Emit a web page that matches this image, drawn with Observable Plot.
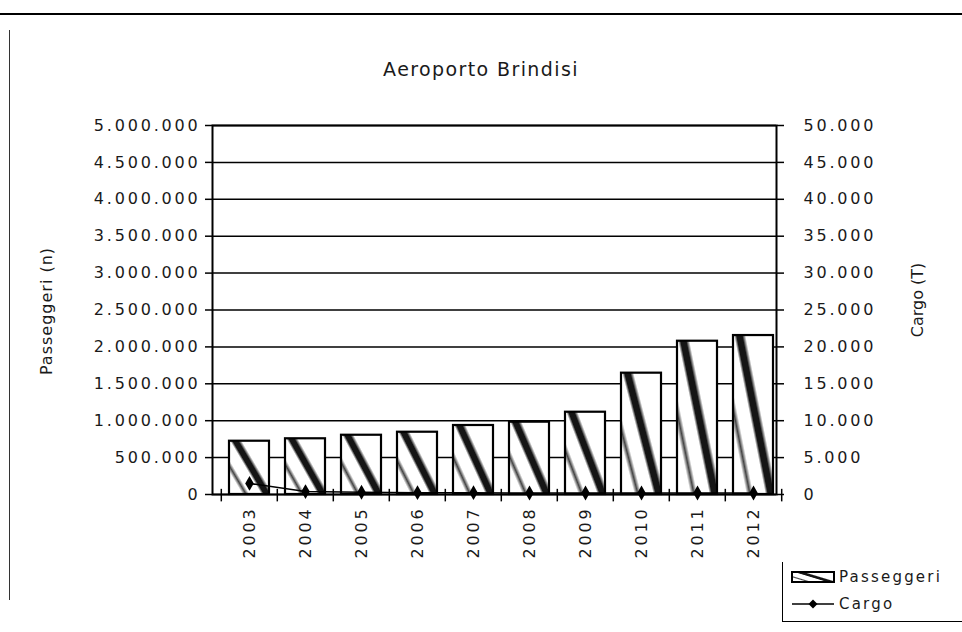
<!DOCTYPE html>
<html>
<head>
<meta charset="utf-8">
<script src="https://cdn.jsdelivr.net/npm/d3@7"></script>
<script src="https://cdn.jsdelivr.net/npm/@observablehq/plot@0.6"></script>
<style>
  body { margin: 0; background: #fff; }
  #wrap { position: relative; width: 962px; height: 632px; background: #fff; overflow: hidden;
          font-family: "DejaVu Sans", sans-serif; color: #1a1a1a; }
  #chart { position: absolute; left: 0; top: 0; }
  .title { position: absolute; left: 0; width: 962px; top: 58px; text-align: center;
           font-size: 19px; letter-spacing: 1.4px; }
  .vlab { position: absolute; font-size: 16px; white-space: nowrap;
          transform: translate(-50%, -50%) rotate(-90deg); }
  #topline { position: absolute; left: 0; top: 13px; width: 962px; height: 2px; background: #000; }
  #leftline { position: absolute; left: 9px; top: 30px; width: 0; height: 570px; border-left: 1px solid #333; }
  #legend { position: absolute; left: 782px; top: 562px; width: 180px; height: 59px;
            border-left: 1.5px solid #000; border-bottom: 1.5px solid #000; font-size: 15px; letter-spacing: 2.2px; }
  #legend .item { position: absolute; left: 7px; display: flex; align-items: center; }
  #legend svg { display: block; margin-right: 3px; }
</style>
</head>
<body>
<div id="wrap">
  <div id="topline"></div>
  <div id="leftline"></div>
  <div class="title">Aeroporto Brindisi</div>
  <div class="vlab" style="left:46px; top:311px; letter-spacing:1px;">Passeggeri (n)</div>
  <div class="vlab" style="left:917px; top:300px;">Cargo (T)</div>
  <div id="chart"></div>
  <div id="legend">
    <div class="item" style="top:6px;">
      <svg width="46" height="14"><rect x="2" y="2" width="42" height="10" fill="url(#barFill)" stroke="#000" stroke-width="2"></rect></svg>
      <span>Passeggeri</span>
    </div>
    <div class="item" style="top:33px;">
      <svg width="46" height="14"><line x1="2" y1="7" x2="44" y2="7" stroke="#000" stroke-width="1.5"></line><path d="M23,2.5L27.5,7L23,11.5L18.5,7Z" fill="#000"></path></svg>
      <span>Cargo</span>
    </div>
  </div>
</div>
<script>
// ---- data ----
const years = ["2003", "2004", "2005", "2006", "2007", "2008", "2009", "2010", "2011", "2012"];
const passeggeri = [722000, 755000, 803000, 844000, 935000, 980000, 1115000, 1644000, 2077000, 2154000];
const cargo = [1500, 400, 300, 250, 250, 200, 200, 200, 200, 200];
const leftTicks = [0, 500000, 1000000, 1500000, 2000000, 2500000, 3000000, 3500000, 4000000, 4500000, 5000000];
const rightTicks = [0, 5000, 10000, 15000, 20000, 25000, 30000, 35000, 40000, 45000, 50000];

const ratio = 100; // cargo axis 0–50.000 maps onto passenger axis 0–5.000.000
const data = years.map((y, i) => ({year: y, passeggeri: passeggeri[i], cargo: cargo[i]}));
const fmt = d => d3.format(",")(d).replace(/,/g, ".");
const step = (962 - 212 - 186) / years.length;

const chart = Plot.plot({
  width: 962,
  height: 632,
  marginTop: 125,
  marginBottom: 138,
  marginLeft: 212,
  marginRight: 186,
  style: {fontFamily: "DejaVu Sans", fontSize: "16px", color: "#000", background: "transparent", letterSpacing: "2.8px"},
  x: {type: "band", domain: years, paddingInner: 0.29, paddingOuter: 0.145, align: 0.85},
  y: {domain: [0, 5000000]},
  marks: [
    Plot.gridY(leftTicks, {stroke: "#000", strokeOpacity: 1, strokeWidth: 1.5}),
    Plot.barY(data, {x: "year", y: "passeggeri", fill: "url(#barFill)", stroke: "#000", strokeWidth: 2.2}),
    Plot.line(data, {x: "year", y: d => d.cargo * ratio, stroke: "#000", strokeWidth: 1.5}),
    Plot.dot(data, {x: "year", y: d => d.cargo * ratio, symbol: "diamond", fill: "#000", r: 4.5}),
    Plot.ruleX(years, {x: d => d, dx: -step / 2, y1: 70000, y2: -100000, stroke: "#000", strokeWidth: 1.5}),
    Plot.ruleX(years.slice(-1), {x: d => d, dx: step / 2, y1: 70000, y2: -100000, stroke: "#000", strokeWidth: 1.5}),
    Plot.axisY(leftTicks, {anchor: "left", tickFormat: fmt, tickSize: 7, tickPadding: 5, label: null, fill: "#1a1a1a", strokeWidth: 1.5}),
    Plot.axisY(rightTicks.map(v => v * ratio), {anchor: "right", tickFormat: d => fmt(d / ratio), tickSize: 7, tickPadding: 20, label: null, fill: "#1a1a1a", strokeWidth: 1.5}),
    Plot.axisX({anchor: "bottom", tickRotate: -90, tickSize: 0, tickPadding: 12, label: null, fill: "#1a1a1a"}),
    Plot.frame({stroke: "#000", strokeWidth: 2})
  ]
});

// speckled diagonal band fill imitating the scanned bars
const defs = d3.select(chart).insert("defs", ":first-child");
const grad = defs.append("linearGradient").attr("id", "barFill")
  .attr("x1", 0).attr("y1", 0.75).attr("x2", 0.7).attr("y2", 0.2);
[[0, "#fff"], [0.12, "#fff"], [0.2, "#444"], [0.28, "#fff"], [0.54, "#fff"], [0.6, "#151515"], [0.72, "#151515"], [0.8, "#fff"], [1, "#fff"]]
  .forEach(([o, c]) => grad.append("stop").attr("offset", o).attr("stop-color", c));

document.getElementById("chart").appendChild(chart);
</script>
</body>
</html>
